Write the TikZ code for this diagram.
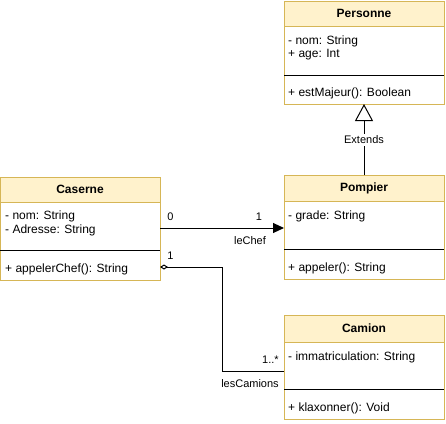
\documentclass[tikz,border=0pt]{standalone}
\usepackage{fontspec}
\setmainfont{Liberation Sans}
\usepackage{tikz}
\usetikzlibrary{positioning, arrows.meta}
\usepackage{xcolor}
\definecolor{umlline}{HTML}{D6B656}
\definecolor{umlfill}{HTML}{FFF2CC}

\begin{document}
\begin{tikzpicture}[x=1pt, y=-1pt, node distance=0pt, every node/.style={font=\fontsize{12}{13.5}\selectfont}]
  \tikzstyle{head} = [rectangle, draw=umlline, line width=1pt, fill=umlfill, minimum width=160pt, inner sep=0pt, outer sep=0pt, anchor=north west, font=\fontsize{12}{13.5}\selectfont\bfseries]
  \tikzstyle{part} = [rectangle, draw=umlline, line width=1pt, fill=white, minimum width=160pt, inner sep=0pt, outer sep=0pt]
  \tikzstyle{member} = [inner sep=0pt, align=left]
  \tikzstyle{divider} = [line width=1pt, black]
  \tikzstyle{tag} = [inner sep=0pt, font=\fontsize{11}{13}\selectfont]
  \tikzstyle{inherit} = [line width=1pt, -{Triangle[open, length=17pt, width=18pt]}]
  \tikzstyle{assoc} = [line width=1pt, -{Triangle[length=11pt, width=10pt]}]
  \tikzstyle{aggr} = [line width=1pt, {Diamond[open, length=8pt, width=5pt]}-]

  \useasboundingbox (0,0) rectangle (446,423);

  \node (perhead) [head, minimum height=25pt] at (284,1) {Personne};
  \node (perattr) [part, minimum height=49pt, below=of perhead] {};
  \node (permeth) [part, minimum height=29pt, below=of perattr] {};
  \draw [divider] (perattr.south west) -- (perattr.south east);
  \node (perfields) [member, below right=9.5pt and 4pt of perattr.north west] {- nom: String\\+ age: Int};
  \node (perops) [member, below right=13pt and 4pt of permeth.north west] {+ estMajeur(): Boolean};

  \node (pomhead) [head, minimum height=26pt] at (284,175) {Pompier};
  \node (pomattr) [part, minimum height=48pt, below=of pomhead] {};
  \node (pommeth) [part, minimum height=30pt, below=of pomattr] {};
  \draw [divider] (pomattr.south west) -- (pomattr.south east);
  \node (pomfields) [member, below right=9.5pt and 4pt of pomattr.north west] {- grade: String};
  \node (pomops) [member, below right=13.5pt and 4pt of pommeth.north west] {+ appeler(): String};

  \node (cashead) [head, minimum height=25pt] at (0,177) {Caserne};
  \node (casattr) [part, minimum height=48pt, below=of cashead] {};
  \node (casmeth) [part, minimum height=30pt, below=of casattr] {};
  \draw [divider] (casattr.south west) -- (casattr.south east);
  \node (casfields) [member, below right=9pt and 5pt of casattr.north west] {- nom: String\\- Adresse: String};
  \node (casops) [member, below right=14pt and 5pt of casmeth.north west] {+ appelerChef(): String};

  \node (camhead) [head, minimum height=27pt] at (284,315) {Camion};
  \node (camattr) [part, minimum height=47pt, below=of camhead] {};
  \node (cammeth) [part, minimum height=30pt, below=of camattr] {};
  \draw [divider] (camattr.south west) -- (camattr.south east);
  \node (camfields) [member, below right=9.5pt and 4pt of camattr.north west] {- immatriculation: String};
  \node (camops) [member, below right=13.5pt and 4pt of cammeth.north west] {+ klaxonner(): Void};

  \draw [inherit] (pomhead.north) -- (permeth.south);
  \node (extends) [tag, fill=white, inner ysep=2pt] at (364,140) {Extends};

  \draw [assoc] (casattr.east |- 0,228) -- (pomattr.west |- 0,228);
  \node (chefmin) [tag] at (170.5,217) {0};
  \node (chefmax) [tag] at (259,217) {1};
  \node (chefrole) [tag] at (250,241) {leChef};

  \draw [aggr] (casmeth.east |- 0,267) -| (222,371) -- (camattr.west |- 0,371);
  \node (cammin) [tag] at (170.5,256) {1};
  \node (cammax) [tag] at (270.5,360) {1..*};
  \node (camrole) [tag] at (250,384) {lesCamions};
\end{tikzpicture}
\end{document}
